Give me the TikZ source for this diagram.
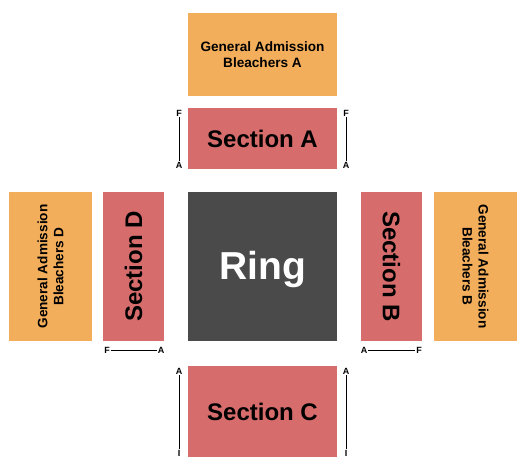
\documentclass[tikz,border=0pt]{standalone}
\usepackage{fontspec}
\setmainfont{Liberation Sans}
\usetikzlibrary{positioning}
\definecolor{SeatRed}{HTML}{D76C6C}
\definecolor{SeatGold}{HTML}{F3AE5C}
\definecolor{RingGrey}{HTML}{4A4A4A}

\begin{document}
\begin{tikzpicture}[x=1pt,y=1pt,node distance=23pt]
    \tikzset{blk/.style={inner sep=0pt,outer sep=0pt,draw=none},
      sect/.style={blk,fill=SeatRed},
      bleach/.style={blk,fill=SeatGold},
      secttxt/.style={font=\bfseries\fontsize{24}{26}\selectfont},
      bleachtxt/.style={font=\bfseries\fontsize{13.6}{16}\selectfont,align=center},
      rowtxt/.style={font=\bfseries\fontsize{9}{9}\selectfont,inner sep=1pt}}
    \useasboundingbox (0,0) rectangle (525,470);
    \node[blk,fill=RingGrey,minimum width=149pt,minimum height=149pt] (ring) at (262.5,203.5) {};
    \node[font=\bfseries\fontsize{39}{41}\selectfont,text=white] (ringtxt) at ([yshift=-3pt]ring.center) {Ring};
    \node[sect,minimum width=149pt,minimum height=61pt,above=23pt of ring] (secA) {};
    \node[secttxt] at (secA.center) {Section A};
    \node[bleach,minimum width=149pt,minimum height=83pt,above=12pt of secA] (blA) {};
    \node[bleachtxt] at (blA.center) {General Admission\\Bleachers A};
    \node[sect,minimum width=149pt,minimum height=91pt,below=25pt of ring] (secC) {};
    \node[secttxt] at (secC.center) {Section C};
    \node[sect,minimum width=61pt,minimum height=149pt,left=24pt of ring] (secD) {};
    \node[secttxt,rotate=90] at (secD.center) {Section D};
    \node[bleach,minimum width=83pt,minimum height=149pt,left=11pt of secD] (blD) {};
    \node[bleachtxt,rotate=90] at (blD.center) {General Admission\\Bleachers D};
    \node[sect,minimum width=61pt,minimum height=149pt,right=24pt of ring] (secB) {};
    \node[secttxt,rotate=-90] at (secB.center) {Section B};
    \node[bleach,minimum width=83pt,minimum height=149pt,right=12pt of secB] (blB) {};
    \node[bleachtxt,rotate=-90] at (blB.center) {General Admission\\Bleachers B};
    % row markers
    \node[rowtxt] (aF1) at ([xshift=-9pt,yshift=-5pt]secA.north west) {F};
    \node[rowtxt] (aA1) at ([xshift=-9pt,yshift=4pt]secA.south west) {A};
    \node[rowtxt] (aF2) at ([xshift=9pt,yshift=-5pt]secA.north east) {F};
    \node[rowtxt] (aA2) at ([xshift=9pt,yshift=4pt]secA.south east) {A};
    \node[rowtxt] (cA1) at ([xshift=-9pt,yshift=-5pt]secC.north west) {A};
    \node[rowtxt] (cI1) at ([xshift=-9pt,yshift=4pt]secC.south west) {I};
    \node[rowtxt] (cA2) at ([xshift=9pt,yshift=-5pt]secC.north east) {A};
    \node[rowtxt] (cI2) at ([xshift=9pt,yshift=4pt]secC.south east) {I};
    \node[rowtxt] (dF) at ([xshift=4pt,yshift=-9pt]secD.south west) {F};
    \node[rowtxt] (dA) at ([xshift=-3pt,yshift=-9pt]secD.south east) {A};
    \node[rowtxt] (bA) at ([xshift=3pt,yshift=-9pt]secB.south west) {A};
    \node[rowtxt] (bF) at ([xshift=-3pt,yshift=-9pt]secB.south east) {F};
    \draw (aF1) -- (aA1);
    \draw (aF2) -- (aA2);
    \draw (cA1) -- (cI1);
    \draw (cA2) -- (cI2);
    \draw (dF) -- (dA);
    \draw (bA) -- (bF);
\end{tikzpicture}
\end{document}
